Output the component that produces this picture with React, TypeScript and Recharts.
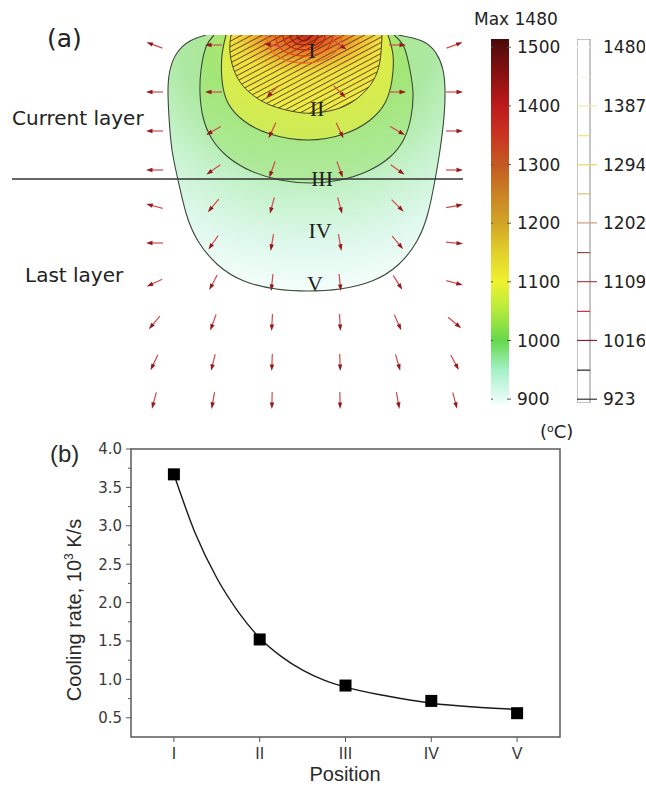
import React from 'react';
import {
  ComposedChart,
  Area,
  Line,
  Scatter,
  XAxis,
  YAxis,
  BarChart,
  Bar,
  ReferenceLine,
  ReferenceArea,
} from 'recharts';

// ---------- (a) melt pool field: [x from pool centre, depth below top surface]
const contourV = [
  [-100, 0], [-116, 6], [-129, 18], [-136, 35], [-138, 55], [-137, 82], [-134, 115], [-128, 145],
  [-120, 178], [-108, 206], [-88, 230], [-62, 246], [-30, 254], [2, 256], [34, 254], [66, 246],
  [92, 230], [111, 206], [122, 178], [129, 145], [134, 115], [138, 82], [139, 55], [137, 35],
  [130, 18], [116, 6], [92, 0],
];
const contourIV = [
  [-92, 0], [-100, 12], [-105, 35], [-106, 58], [-103, 82], [-94, 104], [-78, 122], [-55, 136],
  [-26, 145], [4, 148], [34, 145], [62, 136], [84, 122], [98, 104], [105, 82], [107, 58],
  [104, 35], [98, 12], [88, 0],
];
const contourIII = [
  [-80, 0], [-84, 20], [-84, 45], [-78, 68], [-62, 86], [-36, 99], [2, 105], [38, 99],
  [63, 86], [79, 68], [86, 45], [87, 20], [82, 0],
];
const contourII = [
  [-75, 0], [-76, 18], [-70, 40], [-57, 57], [-36, 70], [-10, 77], [10, 78], [34, 73],
  [53, 62], [67, 46], [74, 26], [76, 0],
];
const ringsI = [
  [[-9, 0], [-8, 3], [-5, 5], [-2, 6], [1, 5], [4, 3], [5, 0]],
  [[-16, 0], [-14, 5], [-9, 9], [-2, 10], [5, 9], [10, 5], [12, 0]],
  [[-23, 0], [-21, 7], [-13, 13], [-2, 15], [9, 13], [17, 7], [19, 0]],
  [[-31, 0], [-28, 10], [-18, 18], [-2, 21], [14, 18], [24, 10], [27, 0]],
  [[-40, 0], [-36, 13], [-23, 24], [-2, 28], [19, 24], [32, 13], [36, 0]],
];
const ringColors = ['#8e1010', '#a81414', '#c42418', '#d83c20', '#e4682a'];
const layerLine = [[-294, 144], [157, 144]];

const romanLabels = [
  { t: 'I', x: 6, d: 15 },
  { t: 'II', x: 11, d: 73 },
  { t: 'III', x: 16, d: 143 },
  { t: 'IV', x: 14, d: 195 },
  { t: 'V', x: 9, d: 248 },
];

const arrowColX = [-152, -93, -34, 34, 92, 149];
const arrowRowDepth = [10, 57, 96, 135, 171, 208, 248, 288, 328, 366];
const arrowAngle = [
  [200, 180, 190, 35, 0, -20],
  [180, 180, 135, 45, 0, 0],
  [180, 150, 115, 65, 30, 0],
  [180, 145, 110, 70, 35, 0],
  [195, 130, 105, 75, 45, -10],
  [180, 125, 100, 80, 50, 5],
  [155, 118, 96, 84, 58, 15],
  [130, 110, 93, 87, 66, 40],
  [115, 104, 92, 88, 74, 62],
  [105, 100, 91, 89, 80, 75],
];

// ---------- colour bars
const tempTicks = [900, 1000, 1100, 1200, 1300, 1400, 1500];
const tempStops: [number, string][] = [
  [1514, '#480a0a'], [1500, '#5a0c0c'], [1450, '#8c1212'], [1400, '#be1a1a'], [1350, '#ca3420'],
  [1300, '#c45a22'], [1250, '#ca8224'], [1200, '#d2a426'], [1150, '#e2d02a'], [1100, '#eef230'],
  [1050, '#b2ea3c'], [1000, '#66d84c'], [950, '#a4f0c4'], [900, '#e6fcf6'], [890, '#f6fffd'],
];
const levelTicks = [923, 1016, 1109, 1202, 1294, 1387, 1480];
const contourLevels = [1480, 1433, 1387, 1340, 1294, 1248, 1202, 1155, 1109, 1062, 1016, 969, 923];
const levelColors = [
  '#ffffff', '#f6f6e0', '#ececa8', '#e8e47a', '#e4da5a', '#dcc070', '#cc9a78',
  '#8c4c40', '#a84444', '#d42a3e', '#8e2030', '#222222', '#333333',
];

// ---------- (b) cooling rate
const positions = ['I', 'II', 'III', 'IV', 'V'];
const coolingRate = [3.67, 1.52, 0.92, 0.72, 0.56];
const fitX = [1, 1.25, 1.5, 1.75, 2, 2.25, 2.5, 2.75, 3, 3.5, 4, 4.5, 5];
const fitRate = [3.67, 2.9, 2.32, 1.88, 1.54, 1.3, 1.12, 0.99, 0.9, 0.78, 0.69, 0.64, 0.61];
const rateTicks = [0.5, 0.75, 1, 1.25, 1.5, 1.75, 2, 2.25, 2.5, 2.75, 3, 3.25, 3.5, 3.75, 4];

const toPts = (pairs: number[][]) => pairs.map(([x, d]) => ({ x, y: -d }));

const arrows = arrowRowDepth.flatMap((d, r) =>
  arrowColX.map((x, c) => ({ x, y: -d, a: arrowAngle[r][c] }))
);
const labelPts = romanLabels.map((l) => ({ x: l.x, y: -l.d, t: l.t }));
const rateData = coolingRate.map((y, i) => ({ x: i + 1, y }));
const fitData = fitX.map((x, i) => ({ x, y: fitRate[i] }));

const Arrow = (props: any) => {
  const { cx, cy, payload } = props;
  return (
    <g transform={`translate(${cx},${cy}) rotate(${payload.a})`}>
      <line x1={-9} y1={0} x2={4} y2={0} stroke="#d04a4a" strokeWidth={1.2} />
      <path d="M8,0 L1.5,-2.2 L1.5,2.2 Z" fill="#961a1a" />
    </g>
  );
};

const RomanLabel = (props: any) => {
  const { cx, cy, payload } = props;
  return (
    <text x={cx} y={cy} dy="0.35em" textAnchor="middle" fontFamily="Liberation Serif" fontSize={22} fill="#1e1e1e">
      {payload.t}
    </text>
  );
};

const Square = (props: any) => (
  <rect x={props.cx - 6} y={props.cy - 6} width={12} height={12} fill="#000" />
);

const areaProps = {
  dataKey: 'y',
  type: 'natural' as const,
  baseValue: 0,
  fillOpacity: 1,
  dot: false,
  activeDot: false,
  isAnimationActive: false,
};

function FieldChart() {
  return (
    <ComposedChart width={480} height={420} margin={{ top: 35, right: 10, bottom: 5, left: 12 }}>
      <defs>
        <radialGradient id="gV" cx="0.5" cy="0" r="1">
          <stop offset="0" stopColor="#b0ec80" />
          <stop offset="0.45" stopColor="#ace8a0" />
          <stop offset="0.62" stopColor="#c4f2ca" />
          <stop offset="0.82" stopColor="#def8ec" />
          <stop offset="1" stopColor="#f4fefb" />
        </radialGradient>
        <radialGradient id="gIV" cx="0.5" cy="0" r="1">
          <stop offset="0" stopColor="#c4ec5c" />
          <stop offset="0.5" stopColor="#a2e676" />
          <stop offset="1" stopColor="#b0eaa0" />
        </radialGradient>
        <radialGradient id="gIII" cx="0.5" cy="0" r="1">
          <stop offset="0" stopColor="#ecee3a" />
          <stop offset="1" stopColor="#cceb58" />
        </radialGradient>
        <radialGradient id="gII" cx="0.5" cy="0" r="1">
          <stop offset="0" stopColor="#c82c18" />
          <stop offset="0.12" stopColor="#e0561c" />
          <stop offset="0.25" stopColor="#ee8a28" />
          <stop offset="0.38" stopColor="#f2c236" />
          <stop offset="0.5" stopColor="#f2e040" />
          <stop offset="1" stopColor="#eeee48" />
        </radialGradient>
        <pattern id="hatch" width="4.8" height="4.8" patternUnits="userSpaceOnUse" patternTransform="rotate(-28)">
          <line x1="0" y1="0.5" x2="4.8" y2="0.5" stroke="#3a2c12" strokeWidth="0.75" />
        </pattern>
      </defs>
      <XAxis type="number" dataKey="x" domain={[-294, 164]} hide allowDataOverflow />
      <YAxis type="number" dataKey="y" domain={[-380, 0]} hide allowDataOverflow />
      <Area {...areaProps} data={toPts(contourV)} fill="url(#gV)" stroke="#3c4838" strokeWidth={1.1} />
      <Area {...areaProps} data={toPts(contourIV)} fill="url(#gIV)" stroke="#3c4838" strokeWidth={1.1} />
      <Area {...areaProps} data={toPts(contourIII)} fill="url(#gIII)" stroke="#3c4838" strokeWidth={1.1} />
      <Area {...areaProps} data={toPts(contourII)} fill="url(#gII)" stroke="none" />
      <Area {...areaProps} data={toPts(contourII)} fill="url(#hatch)" stroke="#4a4a22" strokeWidth={1} />
      {ringsI.map((ring, i) => (
        <Line
          key={i}
          data={toPts(ring)}
          dataKey="y"
          type="natural"
          stroke={ringColors[i]}
          strokeWidth={1.3}
          dot={false}
          activeDot={false}
          isAnimationActive={false}
        />
      ))}
      <Line
        data={toPts(layerLine)}
        dataKey="y"
        type="linear"
        stroke="#333"
        strokeWidth={1.3}
        dot={false}
        activeDot={false}
        isAnimationActive={false}
      />
      <Scatter data={arrows} dataKey="y" shape={Arrow} isAnimationActive={false} />
      <Scatter data={labelPts} dataKey="y" shape={RomanLabel} isAnimationActive={false} />
    </ComposedChart>
  );
}

const TempTick = (p: any) => {
  const ax = p.x - 8; // right edge of the bar
  return (
    <g>
      <line x1={ax - 20} x2={ax - 16} y1={p.y} y2={p.y} stroke="#555" />
      <line x1={ax - 2} x2={ax + 2} y1={p.y} y2={p.y} stroke="#555" />
      <text x={p.x} y={p.y} dy="0.36em" fontFamily="DejaVu Sans" fontSize={17} fill="#222">
        {p.payload.value}
      </text>
    </g>
  );
};

function TempBar() {
  const lo = 890;
  const hi = 1514;
  return (
    <BarChart width={78} height={420} data={[{ k: 'T', v: hi }]} margin={{ top: 39, right: 0, bottom: 15, left: 0 }} barCategoryGap={0}>
      <defs>
        <linearGradient id="tempGrad" x1="0" y1="0" x2="0" y2="1">
          {tempStops.map(([v, c]) => (
            <stop key={v} offset={(hi - v) / (hi - lo)} stopColor={c} />
          ))}
        </linearGradient>
      </defs>
      <XAxis dataKey="k" hide />
      <YAxis
        type="number"
        orientation="right"
        width={60}
        domain={[lo, hi]}
        ticks={tempTicks}
        interval={0}
        axisLine={false}
        tickLine={false}
        tickSize={4}
        tickMargin={4}
        tick={<TempTick />}
        allowDataOverflow
      />
      <Bar dataKey="v" fill="url(#tempGrad)" isAnimationActive={false} />
    </BarChart>
  );
}

const LevelTick = (p: any) => {
  const ax = p.x - 13; // right edge of the bar
  const v = p.payload.value;
  const c = levelColors[contourLevels.indexOf(v)];
  return (
    <g>
      <line x1={ax} x2={ax + 7} y1={p.y} y2={p.y} stroke={c === '#ffffff' ? 'none' : c} strokeWidth={1.2} />
      <text x={p.x} y={p.y} dy="0.36em" fontFamily="DejaVu Sans" fontSize={17} fill="#222">
        {v}
      </text>
    </g>
  );
};

function LevelBar() {
  const lo = 917;
  const hi = 1493;
  return (
    <BarChart width={68} height={420} data={[{ k: 'L', v: hi }]} margin={{ top: 39, right: 0, bottom: 17, left: 0 }} barCategoryGap={0}>
      <XAxis dataKey="k" hide />
      <YAxis
        type="number"
        orientation="right"
        width={55}
        domain={[lo, hi]}
        ticks={levelTicks}
        interval={0}
        axisLine={false}
        tickLine={false}
        tickSize={7}
        tickMargin={6}
        tick={<LevelTick />}
        allowDataOverflow
      />
      <Bar dataKey="v" fill="#fff" stroke="#8a8a8a" strokeWidth={1} isAnimationActive={false} />
      {contourLevels.map((lv, i) => (
        <ReferenceLine key={lv} y={lv} stroke={levelColors[i]} strokeWidth={1.2} />
      ))}
    </BarChart>
  );
}

const RateTick = (p: any) => {
  const ax = p.x + 9; // y axis line
  const v = p.payload.value;
  const major = Math.round(v * 2) === v * 2;
  return (
    <g>
      <line x1={ax - (major ? 5 : 3)} x2={ax} y1={p.y} y2={p.y} stroke="#555" />
      {major && (
        <text x={p.x} y={p.y} dy="0.36em" textAnchor="end" fontFamily="DejaVu Sans" fontSize={15} fill="#3a3a3a">
          {v.toFixed(1)}
        </text>
      )}
    </g>
  );
};

function RateChart() {
  return (
    <ComposedChart width={646} height={391} margin={{ top: 49, right: 86, bottom: 24, left: 71 }}>
      <XAxis
        type="number"
        dataKey="x"
        domain={[0.5, 5.5]}
        ticks={[1, 2, 3, 4, 5]}
        interval={0}
        tickFormatter={(v: number) => positions[v - 1]}
        height={30}
        axisLine={false}
        tickSize={5}
        tickMargin={6}
        tickLine={{ stroke: '#555' }}
        tick={{ fontSize: 16, fill: '#333', fontFamily: 'Liberation Sans' }}
      />
      <YAxis
        type="number"
        dataKey="y"
        domain={[0.25, 4]}
        ticks={rateTicks}
        interval={0}
        width={60}
        axisLine={false}
        tickLine={false}
        tickSize={5}
        tickMargin={4}
        tick={<RateTick />}
      />
      <ReferenceArea x1={0.5} x2={5.5} y1={0.25} y2={4} fill="none" stroke="#5a5a5a" strokeWidth={1.5} />
      <Line
        data={fitData}
        dataKey="y"
        type="monotone"
        stroke="#1a1a1a"
        strokeWidth={1.4}
        dot={false}
        activeDot={false}
        isAnimationActive={false}
      />
      <Scatter data={rateData} dataKey="y" shape={Square} isAnimationActive={false} />
    </ComposedChart>
  );
}

export default function App() {
  return (
    <div style={{ position: 'relative', width: 646, height: 791, overflow: 'hidden', background: '#fff' }}>
      <style>{'body{margin:0}'}</style>
      <div style={{ position: 'absolute', left: 0, top: 0 }}>
        <FieldChart />
      </div>
      <div style={{ position: 'absolute', left: 491, top: 0 }}>
        <TempBar />
      </div>
      <div style={{ position: 'absolute', left: 577, top: 0 }}>
        <LevelBar />
      </div>
      <div style={{ position: 'absolute', left: 0, top: 400 }}>
        <RateChart />
      </div>
      <svg width={646} height={791} style={{ position: 'absolute', left: 0, top: 0, pointerEvents: 'none' }}>
        <g fontFamily="DejaVu Sans" fill="#222">
          <text x={47} y={47} fontSize={25}>(a)</text>
          <text x={12} y={125} fontSize={20}>Current layer</text>
          <text x={25} y={282} fontSize={20}>Last layer</text>
          <text x={474} y={25} fontSize={17}>Max 1480</text>
          <text x={540} y={438} fontSize={18}>
            (<tspan dy={-6} fontSize={11}>o</tspan>
            <tspan dy={6}>C)</tspan>
          </text>
        </g>
        <g fontFamily="Liberation Sans" fill="#2a2a2a">
          <text x={50} y={462} fontSize={24}>(b)</text>
          <text x={345} y={781} fontSize={20} textAnchor="middle">Position</text>
          <text transform="translate(81,610) rotate(-90)" fontSize={20} textAnchor="middle">
            Cooling rate, 10<tspan dy={-8} fontSize={12}>3</tspan>
            <tspan dy={8}> K/s</tspan>
          </text>
        </g>
      </svg>
    </div>
  );
}
